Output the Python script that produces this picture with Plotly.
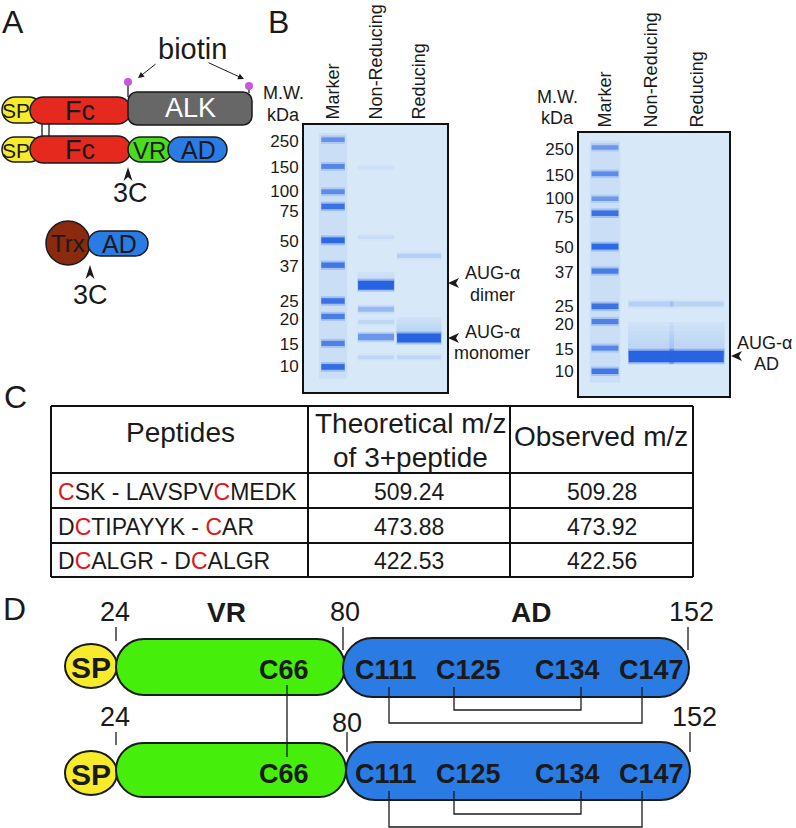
import numpy as np
import plotly.graph_objects as go

FONT = "Liberation Sans, Arial, sans-serif"
INK = "#1a1a1a"

# ---------------- data ----------------
# gel lanes and protein ladder (relative mobility read off the gels)
lanes = ["Marker", "Non-Reducing", "Reducing"]
ladder_kda = ["250", "150", "100", "75", "50", "37", "25", "20", "15", "10"]
ladder_rf = [0.055, 0.155, 0.25, 0.305, 0.432, 0.525, 0.659, 0.717, 0.818, 0.906]
ladder_label_rf = [0.06, 0.158, 0.249, 0.321, 0.434, 0.528, 0.659, 0.727, 0.82, 0.904]
ladder_int_left = [0.55, 0.65, 0.6, 0.85, 0.95, 0.8, 0.85, 0.75, 0.7, 0.9]
ladder_int_right = [0.5, 0.6, 0.5, 0.85, 0.95, 0.75, 0.85, 0.7, 0.65, 0.8]

# sample bands: lane index, mobility, intensity
left_lane = [1, 1, 1, 1, 1, 1, 1, 2, 2, 2]
left_rf = [0.16, 0.42, 0.60, 0.69, 0.738, 0.794, 0.87, 0.49, 0.798, 0.87]
left_int = [0.05, 0.07, 1.0, 0.3, 0.1, 0.55, 0.1, 0.15, 1.0, 0.1]
left_smear = [(1, 0.55, 0.60, 0.35), (2, 0.72, 0.798, 0.45)]

right_lane = [1, 1, 2, 2]
right_rf = [0.65, 0.85, 0.65, 0.85]
right_int = [0.15, 1.0, 0.12, 1.0]
right_smear = [(1, 0.72, 0.85, 0.4), (2, 0.72, 0.85, 0.4)]

# mass spec table
peptides = ["CSK - LAVSPVCMEDK", "DCTIPAYYK - CAR", "DCALGR - DCALGR"]
theoretical_mz = [509.24, 473.88, 422.53]
observed_mz = [509.28, 473.92, 422.56]

# AUG-alpha domain map
boundaries = ["24", "80", "152"]
domains = ["SP", "VR", "AD"]
cysteines = ["C66", "C111", "C125", "C134", "C147"]
intra_bonds = [("C111", "C147"), ("C125", "C134")]
inter_bonds = [("C66", "C66")]

# ---------------- colours ----------------
YELLOW = "#f6ec2c"
RED = "#e5291f"
GRAY = "#676767"
GREEN_A = "#49dd1d"
GREEN_D = "#46ee0c"
BLUE = "#2a7ce4"
BROWN = "#8a2a0e"
MAGENTA = "#cc55dd"
GEL_BG = "#d7e9f9"
BAND = "40,100,225"

W, H = 796.0, 828.0

fig = go.Figure()
shapes = []
annos = []


def text(x, y, s, size, color=INK, bold=False, xanchor="center"):
    annos.append(dict(x=x, y=y, xref="x", yref="y", showarrow=False,
                      text="<b>%s</b>" % s if bold else s, xanchor=xanchor,
                      yanchor="middle", font=dict(family=FONT, size=size, color=color)))


def rrect(x0, y0, x1, y1, r=None):
    if r is None:
        r = (y1 - y0) / 2.0
    k = 0.5523 * r
    p = "M%g,%g L%g,%g " % (x0 + r, y0, x1 - r, y0)
    p += "C%g,%g %g,%g %g,%g " % (x1 - r + k, y0, x1, y0 + r - k, x1, y0 + r)
    p += "L%g,%g " % (x1, y1 - r)
    p += "C%g,%g %g,%g %g,%g " % (x1, y1 - r + k, x1 - r + k, y1, x1 - r, y1)
    p += "L%g,%g " % (x0 + r, y1)
    p += "C%g,%g %g,%g %g,%g " % (x0 + r - k, y1, x0, y1 - r + k, x0, y1 - r)
    p += "L%g,%g " % (x0, y0 + r)
    p += "C%g,%g %g,%g %g,%g Z" % (x0, y0 + r - k, x0 + r - k, y0, x0 + r, y0)
    return p


def blob(path, fill, lw=1.5):
    shapes.append(dict(type="path", xref="x", yref="y", path=path, fillcolor=fill,
                       line=dict(color=INK, width=lw), layer="below"))


def oval(x0, y0, x1, y1, fill, lw=1.5):
    shapes.append(dict(type="circle", xref="x", yref="y", x0=x0, y0=y0, x1=x1, y1=y1,
                       fillcolor=fill, line=dict(color=INK, width=lw), layer="below"))


line_x, line_y = [], []


def seg(pts):
    for px, py in pts:
        line_x.append(px)
        line_y.append(py)
    line_x.append(None)
    line_y.append(None)


# ---------------- panel letters ----------------
for lab, (lx, ly) in {"A": (13, 22), "B": (278, 22), "C": (15, 397), "D": (14, 609)}.items():
    text(lx, ly, lab, 32)

# ---------------- panel A ----------------
blob(rrect(2, 97, 42, 123), YELLOW)
blob(rrect(30, 97, 131, 124), RED)
blob(rrect(128, 92, 252, 125, 9), GRAY)
blob(rrect(2, 137, 42, 162), YELLOW)
blob(rrect(30, 136, 131, 163), RED)
blob(rrect(128, 137, 172, 162), GREEN_A)
blob(rrect(168, 137, 227, 162), BLUE)
oval(46, 221, 90, 265, BROWN)
blob(rrect(88, 231, 148, 256), BLUE)

seg([(42, 124), (42, 136)])
seg([(49, 124), (49, 136)])
seg([(128, 84), (128, 97)])
seg([(249, 88), (249, 93)])
for cx, cy in [(128, 82), (249, 86)]:
    shapes.append(dict(type="circle", xref="x", yref="y", x0=cx - 4, x1=cx + 4, y0=cy - 4,
                       y1=cy + 4, fillcolor=MAGENTA, line=dict(width=0), layer="above"))

for tx, ty in [(128, 167), (90, 265)]:
    shapes.append(dict(type="path", xref="x", yref="y", fillcolor=INK, line=dict(width=0),
                       path="M%g,%g L%g,%g L%g,%g L%g,%g Z" % (tx, ty, tx - 4.5, ty + 14, tx, ty + 10,
                                                               tx + 4.5, ty + 14)))

for (x0, y0, x1, y1) in [(157, 63, 138, 78), (207, 62, 244, 79)]:
    annos.append(dict(x=x1, y=y1, ax=x0, ay=y0, xref="x", yref="y", axref="x", ayref="y",
                      text="", showarrow=True, arrowhead=2, arrowsize=1.2, arrowwidth=1,
                      arrowcolor=INK))

text(192, 49, "biotin", 29)
text(16, 110, "SP", 21)
text(80, 111, "Fc", 27)
text(190, 108, "ALK", 27, color="white")
text(16, 150, "SP", 21)
text(80, 150, "Fc", 27)
text(149, 150, "VR", 24)
text(198, 150, "AD", 25)
text(130, 193, "3C", 27)
text(68, 243, "Trx", 24)
text(119, 244, "AD", 25)
text(90, 295, "3C", 27)

# ---------------- panel B : gels ----------------


def px_dom(a, b, total, flip=False):
    if flip:
        return [1 - b / total, 1 - a / total]
    return [a / total, b / total]


gels = [
    dict(ax="2", box=(304, 125, 447, 392), xr=[-0.674, 2.651], ladder_int=ladder_int_left,
         lane=left_lane, rf=left_rf, inten=left_int, smear=left_smear,
         widths=[0.56, 0.86, 1.05], thick=(3.5, 5.5), mw=(283, 93, 115)),
    dict(ax="3", box=(579, 133, 729, 396), xr=[-0.565, 2.696], ladder_int=ladder_int_right,
         lane=right_lane, rf=right_rf, inten=right_int, smear=right_smear,
         widths=[0.6, 1.0, 1.2], thick=(4, 7.5), mw=(557, 97, 118)),
]

for g in gels:
    xa, ya = "x" + g["ax"], "y" + g["ax"]
    x0, y0, x1, y1 = g["box"]
    fig.update_layout({
        "xaxis" + g["ax"]: dict(domain=px_dom(x0, x1, W), range=g["xr"], anchor=ya, side="top",
                                tickvals=[0, 1, 2], ticktext=lanes, tickangle=-90, ticks="",
                                showgrid=False, zeroline=False, showline=True, mirror=True,
                                linecolor="#111", linewidth=2, fixedrange=True,
                                tickfont=dict(family=FONT, size=18, color=INK)),
        "yaxis" + g["ax"]: dict(domain=px_dom(y0, y1, H, flip=True), range=[1, 0], anchor=xa,
                                tickvals=ladder_label_rf, ticktext=ladder_kda, ticks="",
                                showgrid=False, zeroline=False, showline=True, mirror=True,
                                linecolor="#111", linewidth=2, fixedrange=True,
                                tickfont=dict(family=FONT, size=17, color=INK)),
    })
    shapes.append(dict(type="rect", xref=xa + " domain", yref=ya + " domain", x0=0, x1=1,
                       y0=0, y1=1, fillcolor=GEL_BG, line=dict(width=0), layer="below"))
    # faint marker lane
    shapes.append(dict(type="rect", xref=xa, yref=ya, x0=-0.33, x1=0.33, y0=0.03, y1=0.95,
                       fillcolor="rgba(90,140,225,0.10)", line=dict(width=0), layer="below"))

    # smears above the main bands, fading upward
    for ln, lo, hi, a in g["smear"]:
        hw = g["widths"][ln] / 2
        n = 8
        edges = np.linspace(lo, hi, n + 1)
        for j in range(n):
            al = a * (0.15 + 0.85 * (j + 1) / n) / 2.2
            fig.add_trace(go.Scatter(x=[ln - hw, ln + hw, ln + hw, ln - hw, ln - hw],
                                     y=[edges[j], edges[j], edges[j + 1], edges[j + 1], edges[j]],
                                     fill="toself", mode="none",
                                     fillcolor="rgba(%s,%.3f)" % (BAND, al), xaxis=xa, yaxis=ya,
                                     hoverinfo="skip", showlegend=False))

    bands = [(0, r, a) for r, a in zip(ladder_rf, g["ladder_int"])]
    bands += list(zip(g["lane"], g["rf"], g["inten"]))
    for ln, r, a in bands:
        hw = g["widths"][ln] / 2
        t = g["thick"][0] + g["thick"][1] * a if ln else 3 + 3 * a
        fig.add_trace(go.Scatter(x=[ln - hw, ln + hw], y=[r, r], mode="lines",
                                 line=dict(color="rgba(%s,%g)" % (BAND, a * 0.3), width=t + 4),
                                 xaxis=xa, yaxis=ya, hoverinfo="skip", showlegend=False))
        fig.add_trace(go.Scatter(x=[ln - hw * 0.97, ln + hw * 0.97], y=[r, r], mode="lines",
                                 line=dict(color="rgba(%s,%g)" % (BAND, a), width=t),
                                 xaxis=xa, yaxis=ya, hoverinfo="skip", showlegend=False))
    mx, my1, my2 = g["mw"]
    text(mx, my1, "M.W.", 18)
    text(mx, my2, "kDa", 18)

# band callouts
for tx, ty in [(448, 283), (448, 338), (731, 356)]:
    shapes.append(dict(type="path", xref="x", yref="y", fillcolor=INK, line=dict(width=0),
                       path="M%g,%g L%g,%g L%g,%g L%g,%g Z" % (tx, ty, tx + 11, ty - 5, tx + 8, ty,
                                                               tx + 11, ty + 5)))
text(492, 273, "AUG-α", 18)
text(492, 295, "dimer", 18)
text(492, 332, "AUG-α", 18)
text(492, 353, "monomer", 18)
text(794, 343, "AUG-α", 18, xanchor="right")
text(766, 364, "AD", 18)

# ---------------- panel C : table ----------------
col_x = [51, 308, 510, 693]
row_y = [406, 473, 508, 543, 577]
for yy in row_y:
    shapes.append(dict(type="line", xref="x", yref="y", x0=col_x[0], x1=col_x[-1], y0=yy, y1=yy,
                       line=dict(color="#111", width=2)))
for xx in col_x:
    shapes.append(dict(type="line", xref="x", yref="y", x0=xx, x1=xx, y0=row_y[0], y1=row_y[-1],
                       line=dict(color="#111", width=2)))

text(180, 432, "Peptides", 28)
text(410, 423, "Theoretical m/z", 28)
text(410, 457, "of 3+peptide", 28)
text(601, 436, "Observed m/z", 28)
for i, (pep, th, ob) in enumerate(zip(peptides, theoretical_mz, observed_mz)):
    yy = (row_y[i + 1] + row_y[i + 2]) / 2 + 1
    rich = pep.replace("C", "<span style='color:#e0161b'>C</span>")
    text(56, yy, rich, 23, xanchor="left")
    text((col_x[1] + col_x[2]) / 2, yy, "%.2f" % th, 23)
    text((col_x[2] + col_x[3]) / 2, yy, "%.2f" % ob, 23)

# ---------------- panel D : domain map ----------------
bound_x = {"24": (116, 116), "80": (343, 347), "152": (688, 690)}
bound_lbl = {"24": [(115, 612), (115, 717)], "80": [(345, 612), (347, 723)],
             "152": [(691, 612), (694, 717)]}
cys_lbl_x = {"C66": 284, "C111": 386, "C125": 468, "C134": 567, "C147": 651}
cys_bond_x = {"C66": 287, "C111": 389, "C125": 454, "C134": 581, "C147": 642}
rows_d = [dict(sp=(65, 644, 117, 688), vr=(116, 639, 345, 695), ad=(343, 638, 689, 697), lbl=670,
               tick=(627, 641, 650)),
          dict(sp=(65, 751, 117, 795), vr=(116, 743, 346, 797), ad=(346, 742, 690, 800), lbl=774,
               tick=(732, 745, 752))]

for k, row in enumerate(rows_d):
    oval(*row["sp"], YELLOW, lw=2)
    blob(rrect(*row["vr"]), GREEN_D, lw=2)
    blob(rrect(*row["ad"]), BLUE, lw=2)
    text(91, (row["sp"][1] + row["sp"][3]) / 2 + 1, domains[0], 30, bold=True)
    for c in cysteines:
        text(cys_lbl_x[c], row["lbl"], c, 27, bold=True)
    top, short, long_ = row["tick"]
    for b in boundaries:
        bx = bound_x[b][k]
        seg([(bx, top), (bx, short if b == "24" else long_)])
        lx, ly = bound_lbl[b][k]
        text(lx, ly, b, 27)
    # intra-chain disulfides under the AD
    start = row["lbl"] + 17
    for depth, (ca, cb) in zip([36, 23], intra_bonds):
        seg([(cys_bond_x[ca], start), (cys_bond_x[ca], start + depth),
             (cys_bond_x[cb], start + depth), (cys_bond_x[cb], start)])

for ca, cb in inter_bonds:
    seg([(cys_bond_x[ca], rows_d[0]["lbl"] + 15), (cys_bond_x[cb], rows_d[1]["lbl"] - 17)])

text(226, 612, domains[1], 28, bold=True)
text(531, 612, domains[2], 28, bold=True)

fig.add_trace(go.Scatter(x=line_x, y=line_y, mode="lines", line=dict(color=INK, width=1.3),
                         hoverinfo="skip", showlegend=False, cliponaxis=False))

fig.update_layout(
    width=796, height=828, margin=dict(l=0, r=0, t=0, b=0),
    paper_bgcolor="white", plot_bgcolor="rgba(0,0,0,0)",
    xaxis=dict(range=[0, W], domain=[0, 1], visible=False, fixedrange=True),
    yaxis=dict(range=[H, 0], domain=[0, 1], visible=False, fixedrange=True),
    shapes=shapes, annotations=annos, showlegend=False,
)

# the page body keeps a default 8px margin; drop it so the figure sits at the corner
fig.write_html("out.html", config={"displayModeBar": False},
               post_script="document.body.style.margin='0';")
